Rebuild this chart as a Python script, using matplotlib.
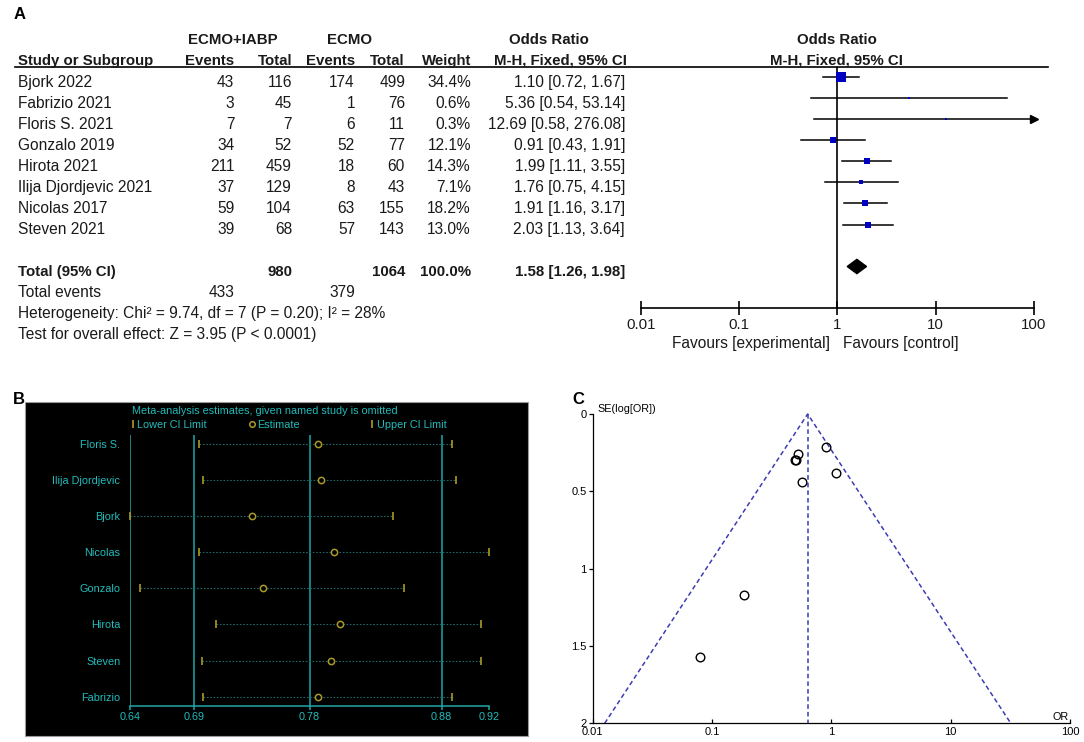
import matplotlib
matplotlib.use("Agg")
import matplotlib.pyplot as plt
from matplotlib.lines import Line2D
from matplotlib.patches import Rectangle
from matplotlib.ticker import NullLocator

plt.rcParams['font.family'] = ['Liberation Sans', 'DejaVu Sans']

# ---------------- Data: Panel A (forest plot) ----------------
studies = ["Bjork 2022", "Fabrizio 2021", "Floris S. 2021", "Gonzalo 2019",
           "Hirota 2021", "Ilija Djordjevic 2021", "Nicolas 2017", "Steven 2021"]
ev_exp = [43, 3, 7, 34, 211, 37, 59, 39]
tot_exp = [116, 45, 7, 52, 459, 129, 104, 68]
ev_ctl = [174, 1, 6, 52, 18, 8, 63, 57]
tot_ctl = [499, 76, 11, 77, 60, 43, 155, 143]
weights = [34.4, 0.6, 0.3, 12.1, 14.3, 7.1, 18.2, 13.0]
or_est = [1.10, 5.36, 12.69, 0.91, 1.99, 1.76, 1.91, 2.03]
or_lo = [0.72, 0.54, 0.58, 0.43, 1.11, 0.75, 1.16, 1.13]
or_hi = [1.67, 53.14, 276.08, 1.91, 3.55, 4.15, 3.17, 3.64]
total_exp, total_ctl = 980, 1064
total_ev_exp, total_ev_ctl = 433, 379
total_or, total_lo, total_hi = 1.58, 1.26, 1.98
forest_ticks = [0.01, 0.1, 1, 10, 100]
forest_ticklabels = ["0.01", "0.1", "1", "10", "100"]

# ---------------- Data: Panel B (leave-one-out) ----------------
loo_studies = ["Floris S.", "Ilija Djordjevic", "Bjork", "Nicolas",
               "Gonzalo", "Hirota", "Steven", "Fabrizio"]
loo_lower = [0.694, 0.697, 0.640, 0.694, 0.648, 0.707, 0.696, 0.697]
loo_est = [0.787, 0.789, 0.735, 0.799, 0.744, 0.804, 0.797, 0.787]
loo_upper = [0.891, 0.894, 0.845, 0.920, 0.854, 0.914, 0.914, 0.891]
loo_ticks = [0.64, 0.69, 0.78, 0.883, 0.92]
loo_ticklabels = ["0.64", "0.69", "0.78", "0.88", "0.92"]

# ---------------- Data: Panel C (funnel plot) ----------------
funnel_or = [0.909, 0.187, 0.079, 1.099, 0.503, 0.568, 0.524, 0.493]
funnel_se = [0.215, 1.171, 1.573, 0.380, 0.297, 0.437, 0.257, 0.298]
funnel_pooled = 0.633
funnel_edge_or = [0.0126, 0.633, 31.9]
funnel_edge_se = [2.0, 0.0, 2.0]
funnel_yticks = [0, 0.5, 1, 1.5, 2]
funnel_yticklabels = ["0", "0.5", "1", "1.5", "2"]

# ---------------- Figure helpers ----------------
W, H = 1084, 742
fig = plt.figure(figsize=(W / 100, H / 100), dpi=100)


def X(px):
    return px / W


def Y(py):
    return 1 - py / H


def axes_px(l, t, r, b):
    return fig.add_axes([l / W, 1 - b / H, (r - l) / W, (b - t) / H])


TXT = '#1a1a1a'


def t(x, capy, s, ha='left', bold=False, fs=11.2, color=TXT):
    base = capy + 0.358 * fs * 100 / 72
    fig.text(X(x), Y(base), s, ha=ha, va='baseline', fontsize=fs,
             fontweight='bold' if bold else 'normal', color=color)


def tb(x, capy, s, ha='left'):
    t(x, capy, s, ha, True, 10.8)


def cap(i):
    return 77.5 + 21 * i + 3.8


# ---------------- Panel A ----------------
t(14, 13, "A", bold=True, fs=12, color='black')
tb(232.7, 38.3, "ECMO+IABP", 'center')
tb(349.3, 38.3, "ECMO", 'center')
tb(548.5, 38.3, "Odds Ratio", 'center')
tb(836.7, 38.3, "Odds Ratio", 'center')
tb(18.3, 59.3, "Study or Subgroup", 'left')
tb(234.3, 59.3, "Events", 'right')
tb(292, 59.3, "Total", 'right')
tb(355, 59.3, "Events", 'right')
tb(405, 59.3, "Total", 'right')
tb(471, 59.3, "Weight", 'right')
tb(560, 59.3, "M-H, Fixed, 95% CI", 'center')
tb(836.7, 59.3, "M-H, Fixed, 95% CI", 'center')
fig.add_artist(Line2D([X(15), X(1048)], [Y(66.7), Y(66.7)], color='black', lw=1.2))

for i, s in enumerate(studies):
    y = cap(i)
    t(18.3, y, s)
    t(234.3, y, str(ev_exp[i]), 'right')
    t(292, y, str(tot_exp[i]), 'right')
    t(355, y, str(ev_ctl[i]), 'right')
    t(405, y, str(tot_ctl[i]), 'right')
    t(471, y, f"{weights[i]:.1f}%", 'right')
    t(625, y, f"{or_est[i]:.2f} [{or_lo[i]:.2f}, {or_hi[i]:.2f}]", 'right')

tb(18.3, cap(9), "Total (95% CI)", 'left')
tb(292, cap(9), str(total_exp), 'right')
tb(405, cap(9), str(total_ctl), 'right')
tb(471, cap(9), f"{sum(weights):.1f}%", 'right')
tb(625, cap(9), f"{total_or:.2f} [{total_lo:.2f}, {total_hi:.2f}]", 'right')
t(18.3, cap(10), "Total events")
t(234.3, cap(10), str(total_ev_exp), 'right')
t(355, cap(10), str(total_ev_ctl), 'right')
t(18.3, cap(11), "Heterogeneity: Chi\u00b2 = 9.74, df = 7 (P = 0.20); I\u00b2 = 28%")
t(18.3, cap(12), "Test for overall effect: Z = 3.95 (P < 0.0001)")

axF = axes_px(640.7, 66.7, 1034, 308)
axF.set_xscale('log')
axF.set_xlim(0.01, 100)
axF.set_ylim(10.976, -0.514)
axF.patch.set_alpha(0)
for sp in ['top', 'left', 'right']:
    axF.spines[sp].set_visible(False)
axF.spines['bottom'].set_linewidth(1.2)
axF.set_xticks(forest_ticks)
axF.set_xticklabels(forest_ticklabels)
axF.xaxis.set_minor_locator(NullLocator())
axF.tick_params(axis='x', direction='inout', length=10, width=1.2,
                labelsize=10.8, pad=2, labelcolor=TXT)
axF.set_yticks([])
axF.axvline(1, color='black', lw=1.2, zorder=1)
for i in range(len(studies)):
    hi = min(or_hi[i], 100)
    axF.plot([or_lo[i], hi], [i, i], color='black', lw=1.1, zorder=2)
    if or_hi[i] > 100:
        axF.plot(100, i, marker='>', color='black', ms=6, clip_on=False, zorder=3)
    side = (2.2 + 0.235 * weights[i]) * 0.72
    axF.plot(or_est[i], i, 's', color='#0000C0', ms=side, mew=0, zorder=4)
axF.fill([total_lo, total_or, total_hi, total_or], [9, 9 - 0.34, 9, 9 + 0.34],
         color='black', zorder=4)
t(830, 342.7, "Favours [experimental]", 'right')
t(843, 342.7, "Favours [control]", 'left')

# ---------------- Panel B ----------------
CY = '#22BBBB'
CYL = '#1EA8A8'
GOLD = '#A99A28'
t(13, 398, "B", bold=True, fs=12, color='black')
fig.add_artist(Rectangle((X(25), Y(736)), (528 - 25) / W, (736 - 402) / H,
                         transform=fig.transFigure, facecolor='black',
                         edgecolor='#9a9a9a', lw=0.8, zorder=0))
axB = axes_px(130, 435, 489, 705.7)
axB.patch.set_alpha(0)
axB.set_xlim(0.64, 0.92)
axB.set_ylim(7.25, -0.25)
for sp in ['top', 'left', 'right']:
    axB.spines[sp].set_visible(False)
axB.spines['bottom'].set_color(CYL)
axB.spines['bottom'].set_linewidth(1.1)
axB.set_xticks(loo_ticks)
axB.set_xticklabels(loo_ticklabels)
axB.tick_params(axis='x', direction='out', length=3, width=1.1, color=CYL,
                labelcolor=CY, labelsize=7.8, pad=1.5)
axB.set_yticks(range(len(loo_studies)))
axB.set_yticklabels(loo_studies)
axB.tick_params(axis='y', length=0, labelcolor=CY, labelsize=7.8, pad=7)
for v in loo_ticks[:-1]:
    axB.axvline(v, color=CYL, lw=1.1, zorder=1)
for i in range(len(loo_studies)):
    axB.plot([loo_lower[i], loo_upper[i]], [i, i], ls=(0, (1.5, 1.5)),
             color='#1f6464', lw=0.8, zorder=2)
    axB.plot([loo_lower[i], loo_upper[i]], [i, i], ls='none', marker='|',
             color=GOLD, ms=6, mew=1.2, zorder=3, clip_on=False)
    axB.plot(loo_est[i], i, 'o', mfc='black', mec=GOLD, ms=4.5, mew=1.1, zorder=3)
t(132, 410, "Meta-analysis estimates, given named study is omitted", fs=7.8, color=CY)
fig.add_artist(Line2D([X(133)], [Y(424)], marker='|', color=GOLD, ms=6, mew=1.2, ls='none'))
t(137.3, 424, "Lower CI Limit", fs=7.8, color=CY)
fig.add_artist(Line2D([X(251.7)], [Y(424)], marker='o', mfc='black', mec=GOLD, ms=4, mew=1.1, ls='none'))
t(257.3, 424, "Estimate", fs=7.8, color=CY)
fig.add_artist(Line2D([X(372.3)], [Y(424)], marker='|', color=GOLD, ms=6, mew=1.2, ls='none'))
t(377.3, 424, "Upper CI Limit", fs=7.8, color=CY)

# ---------------- Panel C ----------------
t(572, 398, "C", bold=True, fs=12, color='black')
axC = axes_px(592.7, 414, 1070, 723.3)
axC.set_xscale('log')
axC.set_xlim(0.01, 100)
axC.set_ylim(2, 0)
axC.patch.set_alpha(0)
for sp in ['top', 'right']:
    axC.spines[sp].set_visible(False)
for sp in ['left', 'bottom']:
    axC.spines[sp].set_linewidth(0.9)
axC.set_yticks(funnel_yticks)
axC.set_yticklabels(funnel_yticklabels)
axC.tick_params(axis='y', direction='out', length=3, width=0.9, labelsize=8, pad=1.5)
axC.set_xticks(forest_ticks)
axC.set_xticklabels(forest_ticklabels)
axC.xaxis.set_minor_locator(NullLocator())
axC.tick_params(axis='x', direction='in', length=3, width=0.9, labelsize=8, pad=3)
BLUE = '#3C3CB4'
axC.plot(funnel_edge_or, funnel_edge_se, ls=(0, (3, 2)), color=BLUE, lw=1.1, clip_on=False)
axC.plot([funnel_pooled, funnel_pooled], [0, 2], ls=(0, (3, 2)), color=BLUE, lw=1.1)
axC.plot(funnel_or, funnel_se, 'o', mfc='none', mec='black', ms=6.2, mew=1.0)
t(597, 408, "SE(log[OR])", fs=7.8, color='black')
t(1061, 715.7, "OR", 'center', fs=7.8, color='black')

fig.savefig("out.png", dpi=100)
